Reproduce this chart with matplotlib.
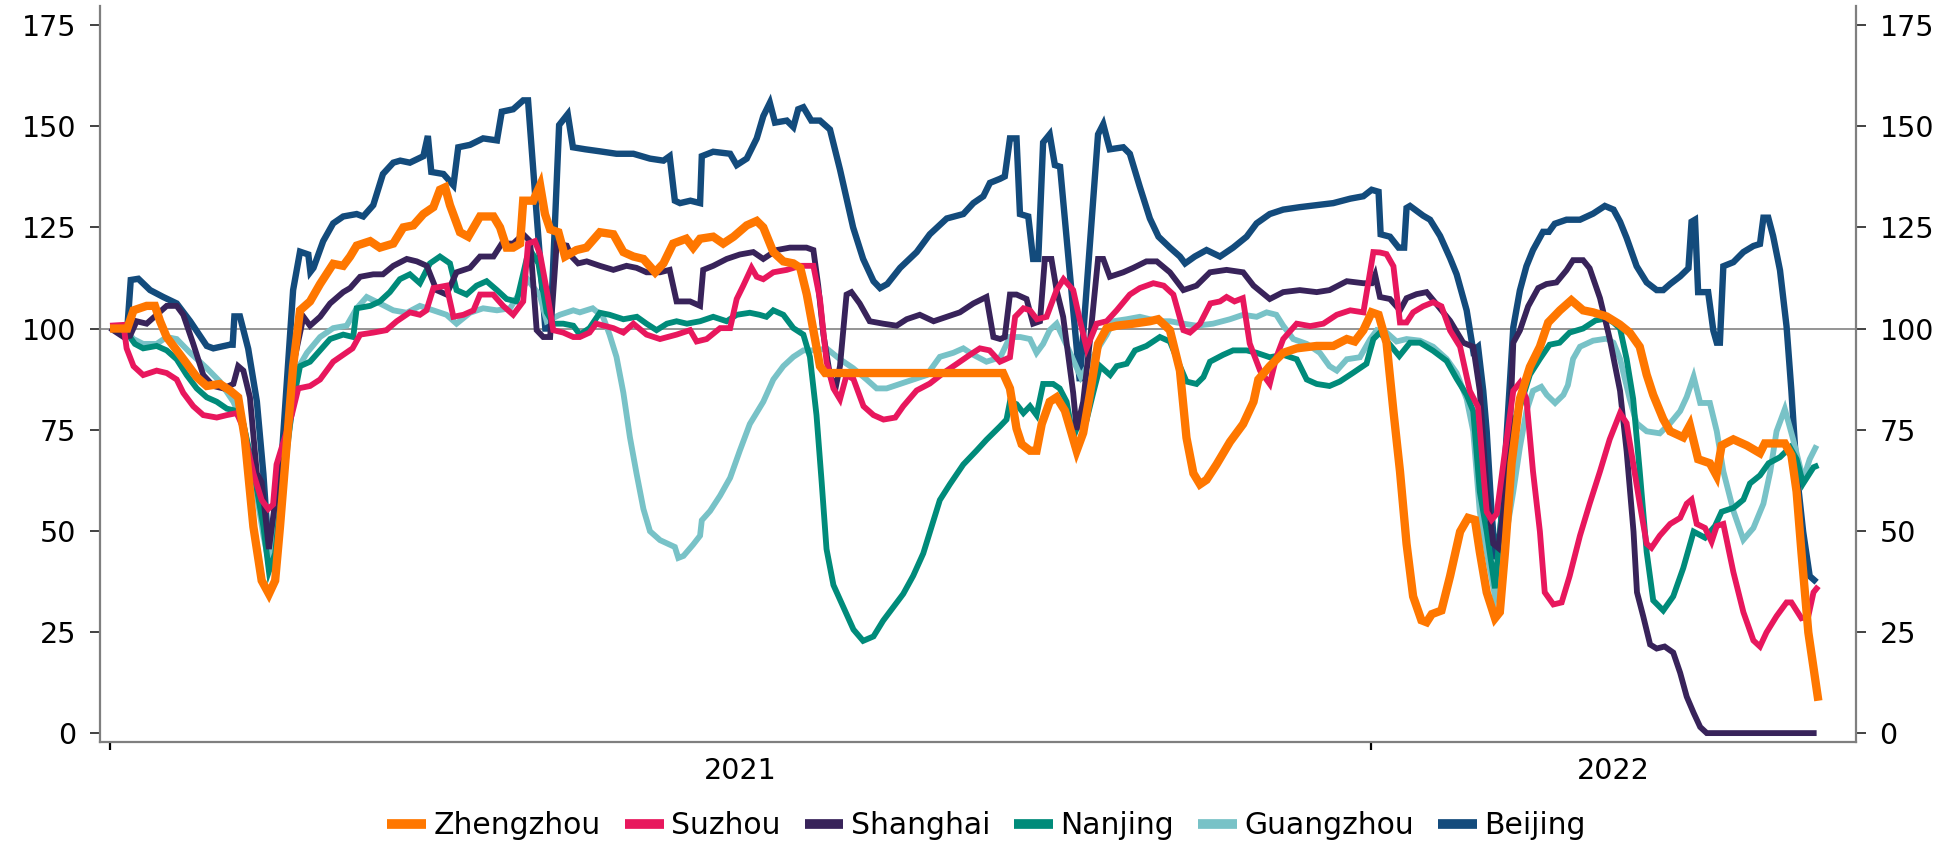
import matplotlib
matplotlib.use("Agg")
import matplotlib.pyplot as plt
from matplotlib.lines import Line2D
import numpy as np

# x = days since 2021-01-01 ; y = index (100 = baseline)
series_names = ["Zhengzhou", "Suzhou", "Shanghai", "Nanjing", "Guangzhou", "Beijing"]
year_labels = ["2021", "2022"]
y_ticks = [0, 25, 50, 75, 100, 125, 150, 175]

zhengzhou_day = [0, 5, 6.8, 10.6, 13, 14.5, 16.4, 20.3, 25.1, 28, 31.8, 34.7, 37.1, 39, 41.5, 43.9, 46, 47.8, 49.2, 51.1, 53, 55, 57.9, 60.8, 64.6, 67.5, 69.5, 71.4, 75.3, 78.1, 82, 84.9, 87.8, 90.7, 93.6, 95.5, 97, 98.4, 101.3, 103.7, 107.1, 111, 112.9, 114.8, 116.7, 118.7, 119.6, 122.5, 124.5, 125.9, 127.4, 129.8, 131.7, 135, 137.9, 141.8, 145.7, 148.6, 151.5, 154.4, 157.8, 160.2, 163, 166.8, 168.8, 170.8, 174.6, 177.5, 180.5, 184.3, 187.2, 189.1, 192, 194.9, 197.8, 199.8, 201.7, 203.6, 205.5, 207, 258.5, 260.5, 262.4, 263.9, 266.3, 268.2, 269.7, 272, 274, 276.4, 279.8, 281.7, 283.7, 286, 288.5, 291.4, 296.2, 301, 303.4, 306.8, 309.7, 311.6, 313.6, 315.5, 317.4, 320.3, 324.2, 328, 331, 332.4, 335.7, 339.6, 343.5, 349.3, 354.1, 358, 360.3, 362.8, 365.2, 367.2, 369.5, 371.5, 373.4, 375.3, 377.2, 379.6, 381.1, 382.6, 385.4, 387.9, 390.8, 393.1, 395.1, 396.5, 398.5, 400.9, 402.3, 403.8, 405.7, 408.1, 411, 413.9, 416.3, 419.7, 423, 426.4, 429.3, 433.2, 437, 439.9, 442.8, 444.8, 446.7, 449.6, 451.6, 455.4, 457.3, 459.7, 463.1, 465, 466.5, 469.9, 473.8, 477.6, 479, 482, 484.8, 486.7, 488.2, 489.6, 491.6, 494.5]
zhengzhou_val = [100, 100, 104.5, 105.6, 105.6, 101.8, 97.9, 93.5, 88, 85.8, 86.3, 84.7, 83, 73, 51, 37.7, 34.4, 37.7, 51, 70.9, 90.7, 104.5, 106.7, 111, 116, 115.5, 117.8, 120.5, 121.6, 120, 121, 125, 125.5, 128.3, 130, 134.3, 134.9, 130.5, 123.8, 122.7, 127.7, 127.7, 125, 120, 120, 121, 131.6, 131.6, 135.4, 128.3, 124.5, 123.8, 117.8, 119.4, 120, 123.8, 123.3, 118.9, 117.8, 117.2, 113.9, 116.1, 121, 122.2, 120, 122.2, 122.7, 121, 122.7, 125.5, 126.6, 125, 118.9, 116.6, 116.1, 115, 108.4, 99.6, 90.7, 89, 89, 85.2, 75.3, 71.4, 69.8, 69.8, 76.4, 81.9, 83, 79.7, 69.8, 74.2, 84.1, 96.2, 100.1, 100.7, 101.2, 101.8, 102.3, 99.6, 89.6, 73, 64.2, 61.5, 62.6, 66.4, 72, 76.4, 81.9, 87.4, 90.7, 94, 95.1, 95.7, 95.7, 97.4, 96.8, 99.6, 104, 103.4, 96.5, 79.6, 64.7, 46.8, 33.8, 27.9, 27.4, 29.4, 30.3, 38.8, 49.8, 53.2, 52.7, 44.8, 34.8, 28.4, 29.9, 44.8, 66.7, 82.6, 90.5, 95.5, 101.5, 104.5, 107, 104.5, 104, 103, 101, 99, 95.5, 88.6, 83.6, 77.6, 74.6, 73.1, 76.1, 67.7, 66.7, 63.7, 71.1, 72.6, 71.1, 69.2, 71.6, 71.6, 71.6, 68.7, 59.7, 44.8, 24.9, 8]

suzhou_day = [0, 3.9, 4.8, 6.8, 9.6, 13.5, 16.4, 19.3, 21.2, 24.1, 27, 30.9, 33.8, 36.7, 38.6, 41.5, 43.9, 45.8, 47.2, 48.2, 50.2, 52.6, 54.5, 57.9, 60.8, 64.6, 67.5, 70.2, 72.4, 76.2, 80, 83, 86.8, 89.7, 91.6, 93.6, 97.4, 99.4, 102.3, 105.2, 107.1, 110.9, 113.8, 116.7, 119.6, 121, 123, 124.5, 126.4, 128.3, 131.2, 134.1, 136, 138.8, 140.7, 145.7, 148.6, 151.5, 155.3, 159.2, 164, 167.9, 169.8, 172.7, 176.6, 179.5, 181.4, 183.3, 185.7, 187.2, 189.1, 192, 195.9, 199.8, 203.6, 205.5, 207.4, 209.4, 211.3, 213.2, 215.2, 218.1, 221, 223.9, 227.3, 229.6, 233.5, 237.3, 241.2, 245, 248.9, 251.8, 254.6, 257.6, 260.5, 262, 264.4, 266.3, 268.3, 271.1, 274, 276, 278.8, 280.8, 282.7, 285.6, 288.5, 291.4, 295.2, 298.1, 302, 305, 307.8, 310.7, 312.6, 315.5, 318.5, 321.3, 323.2, 325.5, 327.9, 329.9, 332.9, 335.7, 337.6, 339.6, 343.5, 347.4, 351.2, 355.1, 359, 362.8, 364.3, 365.7, 367.6, 369.5, 371.5, 373.4, 375.3, 377.2, 380.1, 383, 385.4, 387.9, 390.8, 393.6, 396, 397.5, 398.5, 399.9, 401.4, 403.8, 406.2, 408.1, 410, 411.9, 413.9, 415.3, 417.8, 420.2, 422.5, 425.5, 428.3, 431.3, 434.1, 437.1, 439, 440.9, 442.8, 444.8, 446.2, 448.6, 451.6, 454.5, 456.4, 457.8, 459.3, 461.7, 463.6, 465.1, 467, 469.9, 472.8, 475.7, 477.6, 479.5, 482.4, 485.3, 486.7, 489.6, 491.6, 493.1, 494.5]
suzhou_val = [100.7, 100.9, 95.1, 90.7, 88.5, 89.6, 89, 87.4, 84.1, 80.8, 78.6, 78, 78.6, 79.1, 75.3, 64.2, 57.6, 55.4, 56.5, 66.4, 72, 78.6, 85.2, 85.8, 87.4, 91.8, 93.5, 95.1, 98.5, 99, 99.6, 101.8, 104, 103.4, 104.5, 110, 110.6, 102.9, 103.4, 104.5, 108.4, 108.4, 105.6, 103.4, 106.7, 121, 121.6, 118.3, 109.5, 99.6, 99, 97.9, 97.9, 99, 101.2, 100.1, 99, 101.2, 98.5, 97.4, 98.5, 99.6, 96.8, 97.4, 100.1, 100.1, 107.3, 110.6, 115, 112.8, 112.2, 113.9, 114.5, 115.5, 115.5, 107.3, 91.8, 85.2, 82.5, 88.5, 87.5, 80.8, 78.6, 77.5, 78, 80.8, 84.7, 86.4, 89, 91.2, 93.5, 95.1, 94.6, 91.8, 92.9, 102.9, 105, 104.5, 102.3, 102.9, 109.5, 112.2, 109.5, 101.8, 95.1, 101.2, 101.8, 104.5, 108.4, 110, 111.2, 110.6, 108.4, 99.6, 99, 101.2, 106.2, 106.7, 107.8, 106.7, 107.5, 96.3, 89.6, 86.3, 92.9, 97.4, 101.2, 100.6, 101.2, 103.4, 104.5, 104, 111.7, 118.9, 118.8, 118.4, 115.4, 101.5, 101.5, 104, 105.5, 106.5, 105.5, 99.5, 95.5, 84.6, 80.6, 64.7, 54.7, 52.7, 54.2, 69.7, 84.6, 86.6, 82.6, 64.7, 49.8, 34.8, 31.8, 32.3, 38.8, 48.8, 56.7, 64.7, 72.6, 79.1, 76.6, 66.7, 56.7, 46.8, 45.8, 48.8, 51.7, 53.2, 56.7, 57.7, 51.7, 50.7, 47.3, 51.2, 51.7, 39.8, 29.9, 22.9, 21.4, 24.9, 28.9, 32.3, 32.3, 28.4, 28.9, 34.8, 36.3]

shanghai_day = [0, 3.9, 5.8, 7.7, 10.6, 13.5, 16.4, 19.3, 21.2, 24.1, 27, 29.9, 32.8, 35.7, 37.1, 38.6, 40.5, 42.5, 43.9, 46, 48.2, 51.1, 53.5, 56, 57.9, 60.8, 63.7, 67.5, 69.5, 72.4, 76.2, 79, 82, 85.9, 88.8, 91.7, 94.5, 97.4, 100.3, 104.2, 107.1, 111, 113.4, 116.7, 119.6, 121.6, 123.5, 125.4, 127.4, 129.3, 132.2, 133.6, 135.5, 138, 141.8, 145.7, 149.5, 152.4, 155.3, 159.2, 162, 164, 167.9, 170.8, 171.7, 174.6, 178.5, 182.3, 186.2, 189.1, 193, 196.8, 201.6, 203.6, 205, 206.5, 208.4, 210, 211.3, 213.2, 214.6, 217, 219.9, 223.8, 227.7, 230.6, 234.4, 238.4, 242.2, 246, 249.9, 253.7, 255.7, 257.7, 259, 260.5, 262.4, 265.3, 267.2, 269.2, 270.6, 272.5, 274, 275.9, 278.8, 279.8, 281.7, 283.7, 286, 287.5, 289.4, 293.3, 296.2, 300, 303, 306.8, 310.7, 314.5, 318.4, 323.2, 328, 331, 335.7, 339.6, 344.4, 349.3, 353, 358, 362.8, 365.2, 366.2, 367.6, 370.5, 373.4, 375.3, 378.2, 381.1, 384, 387.9, 391.7, 394.6, 396.5, 398.5, 400.4, 401.8, 403.3, 405.2, 406.2, 408.1, 410.5, 413.4, 415.8, 418.7, 421.6, 423.5, 426.4, 428.3, 431.3, 434.1, 437.1, 439, 441, 442, 443.8, 445.8, 447.7, 450, 452.5, 454.5, 456.4, 458.4, 460.3, 462.2, 494]
shanghai_val = [100.1, 97.9, 98.2, 101.8, 101.2, 103.4, 105.6, 105.6, 103.4, 96.2, 88.5, 85.8, 85.2, 86.3, 90.7, 89.6, 83, 64.2, 62, 45.5, 59.8, 75.3, 92.9, 102.9, 100.7, 102.9, 106.2, 109, 110, 112.8, 113.4, 113.4, 115.5, 117.2, 116.6, 115.5, 109.5, 108.4, 113.9, 115, 117.8, 117.8, 121, 121, 123.3, 121.6, 99.6, 97.9, 97.9, 121, 120.5, 117.8, 116.1, 116.6, 115.5, 114.5, 115.5, 115, 113.9, 113.9, 114.5, 106.7, 106.7, 105.6, 114.5, 115.5, 117.2, 118.3, 118.9, 117.2, 119.4, 120, 120, 119.4, 110.6, 98.5, 88.5, 85.2, 90.7, 108.4, 109, 106.2, 101.8, 101.2, 100.7, 102.3, 103.4, 101.8, 102.9, 104, 106.2, 107.8, 97.9, 97.4, 97.9, 108.4, 108.4, 107.3, 101.2, 101.8, 117.2, 117.2, 109.5, 102.9, 84.1, 75, 81.9, 97.4, 117.2, 117.2, 112.8, 113.9, 115, 116.6, 116.6, 113.9, 109.5, 110.6, 113.9, 114.5, 113.9, 110.6, 107.3, 109, 109.5, 109, 109.5, 111.7, 111.2, 111.2, 113.3, 107.8, 107.3, 104.5, 107.5, 108.5, 109, 106, 101.9, 96.5, 95.5, 84.6, 59.7, 46.8, 45.8, 54.7, 74.6, 96.5, 99.5, 105.5, 110, 111, 111.4, 114.4, 116.9, 116.9, 114.9, 107.5, 97.5, 84.6, 69.7, 49.8, 34.8, 28.9, 21.9, 20.9, 21.4, 19.9, 14.9, 9, 5, 1.5, 0, 0]

nanjing_day = [0, 3.9, 7.2, 9.6, 13.5, 16.4, 19.3, 22.2, 25.1, 28, 30.9, 33.8, 36.2, 38.6, 41.5, 44.4, 46, 47.8, 50.2, 53, 55, 57.9, 60.8, 63.7, 67.5, 70.4, 71.4, 75.3, 78.1, 81, 83.9, 86.8, 89.7, 92.6, 95.5, 98.4, 100.3, 103.2, 106.1, 109, 112, 114.8, 117.7, 120.6, 122, 124, 126.4, 128.3, 131.2, 134.1, 136, 138.8, 141.8, 144.6, 148.6, 152.5, 155.3, 158.2, 161.2, 164, 167, 170.8, 174.6, 178.5, 181.4, 185.2, 188, 190, 192, 194.9, 197.8, 200.7, 202.6, 204.5, 206, 207.4, 209.4, 212.3, 215.2, 218, 221, 223.8, 226.7, 229.6, 232.5, 235.4, 237.4, 240.2, 243.1, 247, 250.8, 253.7, 257.6, 259.5, 260.5, 262.4, 264.4, 266.3, 268.2, 270.1, 273, 274.9, 276.9, 278.8, 280.8, 282.7, 284.6, 286.6, 289.5, 291.4, 294.3, 296.7, 300, 303.9, 306.8, 309.7, 311.6, 314.5, 316.5, 318.4, 322.2, 325.1, 329, 331.9, 335.7, 339.6, 343.5, 346.4, 349.3, 353, 356, 359.9, 363.7, 365.7, 367.6, 370.5, 373.2, 376.3, 379.2, 383, 386.9, 389.8, 392.7, 394.6, 396.5, 398.5, 400.9, 402.3, 404.3, 406.2, 408.1, 411, 413.9, 416.7, 419.6, 422.5, 426.4, 430, 433.2, 435.2, 437.1, 439, 440.9, 442.8, 444.8, 446.7, 449.6, 452.5, 455.4, 458.4, 461.7, 464.6, 466.5, 470, 472.8, 474.7, 477.6, 480.1, 483.4, 486.3, 488.2, 490.1, 493.1, 494.5]
nanjing_val = [100, 100.1, 96.2, 95.1, 95.7, 94.6, 92.4, 88.5, 85.2, 83, 81.9, 80.2, 79.7, 76.4, 65.3, 51, 40, 44.4, 64.2, 81.9, 90.7, 91.8, 94.6, 97.4, 98.5, 97.9, 105, 105.6, 106.7, 109, 112.2, 113.4, 111.2, 116.1, 117.8, 116.1, 109.5, 108.4, 110.6, 111.7, 109.5, 107.3, 106.7, 117.2, 118.9, 116.1, 104, 101.2, 101.2, 100.7, 98.5, 100.1, 103.9, 103.4, 102.3, 102.9, 101.2, 99.6, 101.2, 101.8, 101.2, 101.8, 102.9, 101.8, 103.4, 103.9, 103.4, 102.9, 104.5, 103.4, 100.1, 98.5, 93, 78.6, 62, 45.5, 36.6, 31.1, 25.6, 22.8, 23.9, 27.8, 31.1, 34.4, 38.9, 44.4, 49.9, 57.6, 61.5, 66.4, 69.8, 72.5, 75.8, 77.5, 81.9, 81.3, 79.1, 80.8, 78.6, 86.3, 86.3, 85.2, 81.9, 73, 77.5, 77.5, 84.1, 90.7, 88.5, 90.7, 91.3, 94.6, 95.7, 97.9, 96.8, 90.7, 86.9, 86.3, 88, 91.8, 93.5, 94.6, 94.6, 94, 92.9, 93.5, 92.4, 87.4, 86.3, 85.8, 86.9, 89.1, 91.3, 97.4, 99, 96, 93.2, 96.5, 96.5, 94.5, 92, 87.6, 83.6, 79.6, 59.7, 49.8, 35.8, 49.8, 64.7, 76.6, 80.6, 88.6, 92.5, 96, 96.5, 99, 100, 102, 102.5, 101.5, 100, 92.5, 82.6, 64.7, 44.8, 32.8, 30.3, 33.8, 40.8, 49.8, 48.3, 51.2, 54.7, 55.7, 57.7, 61.7, 63.7, 66.7, 68.2, 70.6, 67.7, 61.7, 65.7, 66.2]

guangzhou_day = [0, 4, 6.8, 9.6, 13.5, 16.4, 19.3, 23.2, 28, 31.8, 35.7, 38.6, 41.5, 44.4, 46, 48.2, 51.1, 54, 57, 60.8, 64.6, 68.5, 71.4, 74.3, 78.1, 82, 85.9, 89.7, 93.6, 97.4, 100.3, 104.2, 108, 112, 115.8, 118.7, 121, 124.5, 126.4, 130.2, 134.1, 136, 139.7, 142.7, 144.6, 146.6, 148.6, 150.5, 152.4, 154.4, 156.3, 159.2, 162, 163.5, 164.5, 166, 168.8, 170.8, 171.3, 173.7, 176.6, 179.5, 182.3, 185.2, 189.1, 192, 194.9, 197.8, 200.7, 204.5, 207.4, 211.3, 215.1, 219, 221.9, 224.8, 228.7, 232.5, 236.4, 240.2, 244.1, 247, 249.9, 253.7, 257.7, 260.5, 263.5, 266.3, 268.2, 270.1, 272, 274, 277.9, 281, 283.7, 286, 288.5, 290.4, 294.3, 298.1, 303.4, 306.8, 310.7, 314.5, 319.3, 324.2, 328, 331.9, 334.8, 337.6, 339.6, 342.5, 346.4, 350.2, 353, 355.1, 358, 361.8, 364.8, 366.7, 369.5, 372.4, 375.3, 379.2, 383, 386.9, 389.8, 392.7, 394.6, 396.5, 398.5, 400.9, 403.3, 406.2, 408.1, 410, 411.9, 414.3, 415.9, 418.3, 420.7, 422, 423.5, 425.5, 429.3, 433.2, 435.2, 437.1, 439.9, 441.9, 444.8, 448.6, 451.6, 454.5, 456.4, 458.4, 460.3, 463.1, 465.1, 467, 470, 472.8, 475.7, 478.6, 480.6, 482.4, 484.8, 487.2, 490.1, 492, 494]
guangzhou_val = [100, 100, 97.4, 96.2, 96.2, 97.9, 97.4, 94, 90.2, 86.9, 81.9, 76.4, 64.2, 48.8, 42.2, 49.9, 68.7, 89.6, 94, 97.9, 100.1, 100.7, 105, 107.8, 106.2, 104.5, 103.9, 105.6, 104.5, 103.4, 101.2, 103.9, 105, 104.5, 105, 109, 112, 108, 101.8, 103.4, 104.5, 104, 105, 102.9, 98.5, 93, 84.1, 73.1, 64.2, 55.4, 49.9, 47.7, 46.6, 46, 43.3, 43.8, 46.6, 48.8, 52.6, 54.9, 58.7, 63.1, 69.8, 76.4, 81.9, 87.4, 90.7, 93, 94.6, 94.6, 95.1, 92.4, 90.2, 87.4, 85.2, 85.2, 86.3, 87.4, 88.5, 93, 94, 95.1, 93.5, 91.8, 92.9, 97.9, 97.9, 97.4, 94, 96.2, 99.6, 101.2, 94, 88, 91.8, 95.1, 98.5, 101.8, 102.3, 102.9, 101.8, 101.8, 101.2, 100.7, 101.2, 102.3, 103.4, 102.9, 104, 103.4, 100.7, 97.4, 96.2, 94, 90.7, 89.6, 92.4, 92.9, 97.4, 99.6, 99, 96.8, 97.4, 97, 95.5, 92.5, 89, 82.6, 74.6, 54.7, 44.8, 33.8, 44.8, 59.7, 70.6, 79.6, 84.6, 85.6, 83.6, 81.6, 83.6, 86, 92.5, 95.5, 97, 97.5, 96.5, 92.5, 82.6, 76.6, 74.6, 74.1, 76.6, 79.6, 83.1, 88.1, 81.6, 81.6, 74.6, 64.7, 54.7, 47.8, 50.7, 56.7, 64.7, 74.6, 80.1, 72.6, 62.7, 67.7, 71.1]

beijing_day = [0, 5, 6, 8.2, 11.6, 15.4, 19.3, 23.2, 28, 29.9, 34.7, 35.5, 36, 37.6, 40, 42.5, 44.4, 46, 49.2, 53, 55, 57.4, 58, 58.9, 61.7, 64.6, 67.5, 71.4, 73.3, 76.2, 79, 82, 84, 86.8, 90.7, 92, 93, 96.5, 99.4, 100.8, 104.2, 108, 112, 113.4, 116.7, 119.6, 121, 123.5, 126, 127.5, 130, 132.5, 134, 137.6, 141.8, 146.6, 151.5, 156.3, 160.2, 162, 163.5, 165, 168, 170.8, 171.3, 174.6, 179.5, 181.4, 184.3, 187.2, 189.1, 191, 192.5, 195.9, 197.8, 199.2, 200.7, 203, 205.5, 208.4, 211.3, 215.1, 218, 221, 222.9, 225, 228.7, 233.5, 237.3, 242.2, 247, 249.9, 252.8, 254.7, 257.6, 259, 260.5, 262.4, 263.4, 265.8, 267.2, 268.7, 270.1, 272, 273.5, 275, 280.7, 286, 287.5, 289.4, 293.3, 295.2, 298.1, 301, 303.5, 306.8, 309.7, 311.2, 314, 317.4, 321.3, 325.1, 329, 331.9, 335.7, 339.6, 344.4, 349.3, 354.1, 359, 362.8, 365.2, 367.2, 367.8, 370.5, 373, 374.6, 375.3, 376.3, 380.1, 382.1, 385, 387.9, 389.8, 392.7, 394.6, 396, 397.5, 398.5, 399.9, 401, 402.5, 404, 406.2, 408.1, 410, 411.9, 414.8, 416.5, 418.2, 421.6, 425.5, 429.3, 432.7, 435.2, 437.1, 439, 441.9, 444.8, 447.7, 449.6, 451.6, 454.5, 456.9, 457.8, 458.8, 459.7, 462.6, 464.1, 465.1, 466, 467, 469.9, 472.8, 475.7, 477.6, 478.6, 480, 481.4, 483.4, 485.3, 486.7, 488.2, 490.1, 492, 494]
beijing_val = [100, 100, 112, 112.3, 109.5, 107.8, 106.2, 101.8, 95.7, 95.1, 96, 96, 103, 103, 95, 82, 64, 44, 62, 109.5, 119, 118.3, 114, 115, 121.6, 126, 127.7, 128.3, 127.7, 130.5, 138.2, 141, 141.5, 141, 142.6, 147.6, 138.7, 138.2, 135.4, 144.8, 145.4, 147, 146.5, 153.6, 154.2, 156.4, 156.4, 128, 100, 100, 150.3, 153, 144.8, 144.3, 143.8, 143.2, 143.2, 142, 141.5, 142.6, 131.6, 131, 131.6, 131, 142.6, 143.7, 143.2, 140.4, 142, 147, 152.5, 155.8, 150.9, 151.4, 149.8, 154.2, 154.7, 151.4, 151.4, 149.2, 139.3, 125, 117.2, 111.7, 110, 111, 115, 118.9, 123.3, 127.2, 128.3, 131, 132.7, 136, 137, 137.6, 147, 147, 128.3, 127.7, 117.2, 117.2, 146, 148, 140.4, 140, 87, 148, 150.5, 144.3, 144.8, 143.2, 135, 127.2, 122.7, 120, 117.8, 116.1, 117.8, 119.4, 117.8, 120, 122.7, 126, 128.3, 129.4, 130, 130.5, 131, 132.1, 132.7, 134.3, 133.8, 123.3, 122.7, 120, 120, 129.8, 130.3, 127.9, 126.9, 122.9, 117.4, 113.4, 104.5, 94.5, 95.5, 84.6, 74.6, 54.7, 43, 50, 70, 100.3, 109.4, 115.4, 119.4, 123.9, 123.9, 125.9, 126.9, 126.9, 128.4, 130.3, 129.4, 126.4, 122.4, 115.4, 111.4, 109.5, 109.5, 111, 112.9, 114.9, 126.4, 126.9, 109, 109, 99.5, 96.5, 96.5, 115.4, 116.4, 118.9, 120.4, 120.9, 127.4, 127.4, 122.9, 114.4, 100.5, 84.6, 64.7, 49.8, 38.8, 37.3]

colors = {"Zhengzhou": "#FF7700", "Suzhou": "#E8175D", "Shanghai": "#38235A",
          "Nanjing": "#008B7A", "Guangzhou": "#78C2C7", "Beijing": "#134B7C"}
widths = {"Zhengzhou": 6.0, "Suzhou": 4.2, "Shanghai": 4.2, "Nanjing": 4.2, "Guangzhou": 4.2, "Beijing": 4.6}
data = {
    "Zhengzhou": (zhengzhou_day, zhengzhou_val),
    "Suzhou": (suzhou_day, suzhou_val),
    "Shanghai": (shanghai_day, shanghai_val),
    "Nanjing": (nanjing_day, nanjing_val),
    "Guangzhou": (guangzhou_day, guangzhou_val),
    "Beijing": (beijing_day, beijing_val),
}

plt.rcParams['font.family'] = ['DejaVu Sans']
fig = plt.figure(figsize=(19.59, 8.48), dpi=100)
ax = fig.add_axes([100/1959, 1 - 742/848, (1856 - 100)/1959, (742 - 6.5)/848])

ax.axhline(100, color="#8C8C8C", lw=1.3, zorder=1)
for z, name in enumerate(reversed(series_names)):
    d, v = data[name]
    ax.plot(d, v, color=colors[name], lw=widths[name], solid_joinstyle="miter",
            solid_capstyle="butt", zorder=2 + z)

ax.set_xlim(-2.9, 505.4)
ax.set_ylim(-2.2, 179.6)

ax.set_yticks(y_ticks)
ax.set_yticklabels([str(t) for t in y_ticks])
ax.tick_params(axis="y", which="major", left=True, right=True, labelleft=True, labelright=True,
               direction="out", length=7, width=1.3, color="#333333", labelsize=20.5, pad=10)

ax.set_xticks([0, 365])
ax.set_xticklabels(["", ""])
ax.set_xticks([182.5, 435.2], minor=True)
ax.set_xticklabels(year_labels, minor=True)
ax.tick_params(axis="x", which="major", direction="out", length=6, width=1.6, color="black")
ax.tick_params(axis="x", which="minor", length=0, labelsize=20.5, pad=11)

for side in ["left", "right", "bottom"]:
    ax.spines[side].set_color("#7F7F7F")
    ax.spines[side].set_linewidth(1.6)
ax.spines["top"].set_visible(False)

handles = [Line2D([0], [0], color=colors[n], lw=7, solid_capstyle="butt") for n in series_names]
fig.legend(handles, series_names, loc="center", bbox_to_anchor=(0.5036, 0.026), ncol=6,
           frameon=False, fontsize=21.5, handlelength=1.3, handletextpad=0.25, columnspacing=0.8)

fig.savefig("out.png", dpi=100)
